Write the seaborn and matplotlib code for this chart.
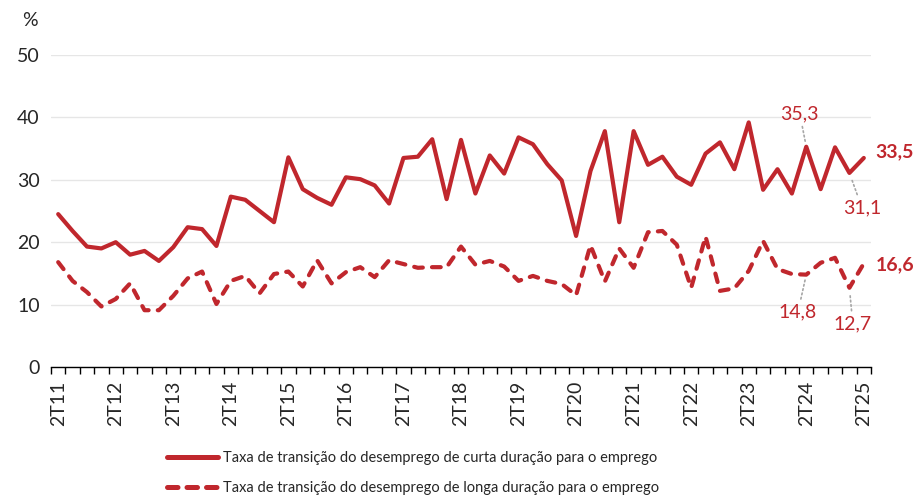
import numpy as np
import pandas as pd
import matplotlib
matplotlib.use("Agg")
import matplotlib.pyplot as plt
from matplotlib.lines import Line2D
import seaborn as sns

# quarters 2T11 .. 2T25
quarters = [f"{q}T{y:02d}" for y in range(11, 26) for q in (1, 2, 3, 4)]
quarters = quarters[1:58]

curta = [24.5, 21.8, 19.3, 19.0, 20.0, 18.0, 18.6, 17.0, 19.2, 22.4,
         22.1, 19.4, 27.3, 26.8, 25.0, 23.2, 33.6, 28.5, 27.1, 26.0,
         30.4, 30.1, 29.1, 26.2, 33.5, 33.7, 36.5, 26.9, 36.4, 27.8,
         33.9, 31.0, 36.8, 35.7, 32.5, 29.9, 21.0, 31.4, 37.8, 23.2,
         37.8, 32.4, 33.7, 30.5, 29.2, 34.2, 36.0, 31.7, 39.2, 28.4,
         31.7, 27.8, 35.3, 28.5, 35.2, 31.1, 33.5]

longa = [16.8, 13.8, 12.0, 9.7, 10.9, 13.4, 9.1, 9.1, 11.4, 14.2,
         15.3, 10.1, 13.8, 14.6, 11.8, 14.9, 15.3, 12.9, 17.1, 13.4,
         15.2, 16.0, 14.4, 17.1, 16.5, 15.9, 16.0, 16.0, 19.3, 16.4,
         17.0, 16.1, 13.8, 14.6, 13.8, 13.3, 11.5, 19.5, 13.7, 19.0,
         15.9, 21.6, 21.8, 19.6, 12.7, 20.9, 12.2, 12.6, 15.4, 20.2,
         15.7, 14.9, 14.8, 16.7, 17.5, 12.7, 16.6]

lbl_curta = "Taxa de transição do desemprego de curta duração para o emprego"
lbl_longa = "Taxa de transição do desemprego de longa duração para o emprego"

df = pd.DataFrame({"i": np.arange(len(quarters)), "trim": quarters,
                   "curta": curta, "longa": longa})

red = "#C0272D"
sns.set_theme(style="white")
plt.rcParams["font.family"] = ["Lato", "DejaVu Sans"]

fig = plt.figure(figsize=(9.15, 4.95), dpi=100)
ax = fig.add_axes([51 / 915, 128 / 495, 820 / 915, 312 / 495])

sns.lineplot(data=df, x="i", y="curta", ax=ax, color=red, lw=3.0,
             solid_capstyle="round", solid_joinstyle="round")
sns.lineplot(data=df, x="i", y="longa", ax=ax, color=red, lw=3.0,
             linestyle=(0, (2.1, 2.2)), dash_capstyle="round",
             dash_joinstyle="round")

ax.set_xlim(-0.5, len(quarters) - 0.5)
ax.set_ylim(0, 50)
ax.set_yticks([0, 10, 20, 30, 40, 50])
ax.yaxis.grid(True, color="#E6E6E6", lw=1)
ax.set_axisbelow(True)
for s in ["left", "right", "top"]:
    ax.spines[s].set_visible(False)
ax.spines["bottom"].set_color("black")
ax.spines["bottom"].set_linewidth(1)

major = [k for k in range(len(quarters)) if quarters[k].startswith("2T")]
ax.set_xticks(major)
ax.set_xticklabels([quarters[k] for k in major], rotation=90, fontsize=14)
ax.set_xticks(np.arange(-0.5, len(quarters)), minor=True)
ax.tick_params(axis="x", which="major", length=0, pad=10)
ax.tick_params(axis="x", which="minor", length=5, width=1, color="black",
               direction="out", bottom=True)
ax.tick_params(axis="y", length=0, pad=8, labelsize=14)
ax.set_xlabel("")
ax.set_ylabel("")
fig.text(22 / 915, 1 - 20 / 495, "%", fontsize=14, va="center", ha="left")

gray_lead = dict(arrowstyle="-", color="#A6A6A6", ls=":", lw=1.2,
                 shrinkA=1, shrinkB=4)
n = len(quarters) - 1
ax.annotate(f"{curta[52]:.1f}".replace(".", ","), xy=(52, curta[52]),
            xytext=(-4.7, 24), textcoords="offset points", ha="center",
            va="center", fontsize=14, color=red, arrowprops=gray_lead)
ax.annotate(f"{curta[55]:.1f}".replace(".", ","), xy=(55, curta[55]),
            xytext=(9, -25), textcoords="offset points", ha="center",
            va="center", fontsize=14, color=red, arrowprops=gray_lead)
ax.annotate(f"{longa[52]:.1f}".replace(".", ","), xy=(52, longa[52]),
            xytext=(-6, -27), textcoords="offset points", ha="center",
            va="center", fontsize=14, color=red, arrowprops=gray_lead)
ax.annotate(f"{longa[55]:.1f}".replace(".", ","), xy=(55, longa[55]),
            xytext=(2.4, -26), textcoords="offset points", ha="center",
            va="center", fontsize=14, color=red, arrowprops=gray_lead)
ax.annotate(f"{curta[n]:.1f}".replace(".", ","), xy=(n, curta[n]),
            xytext=(8.6, 4.3), textcoords="offset points", ha="left",
            va="center", fontsize=14, color=red, fontweight="bold")
ax.annotate(f"{longa[n]:.1f}".replace(".", ","), xy=(n, longa[n]),
            xytext=(8.6, -1), textcoords="offset points", ha="left",
            va="center", fontsize=14, color=red, fontweight="bold")

handles = [Line2D([], [], color=red, lw=3.6, solid_capstyle="round"),
           Line2D([], [], color=red, lw=3.6, linestyle=(0, (2.1, 1.8)),
                  dash_capstyle="round")]
fig.legend(handles, [lbl_curta, lbl_longa], loc="center left",
           bbox_to_anchor=(160 / 915, 1 - 473 / 495), frameon=False,
           fontsize=10.5, handlelength=3.5, handletextpad=0.35,
           labelspacing=1.05, borderpad=0)

fig.savefig("out.png", dpi=100)
